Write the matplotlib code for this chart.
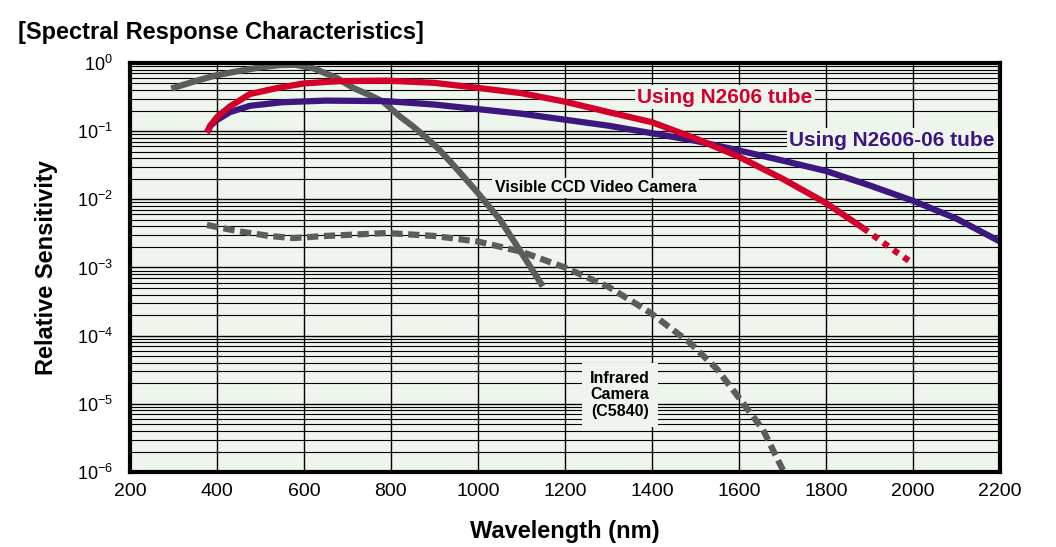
"""Spectral response characteristics: N2606 tubes vs. CCD and infrared cameras."""

import matplotlib

matplotlib.use("Agg")
import matplotlib.pyplot as plt
from matplotlib.ticker import (FixedLocator, LogFormatterSciNotation,
                               NullFormatter)

plt.rcParams["font.family"] = ["Liberation Sans", "DejaVu Sans"]
plt.rcParams["mathtext.fontset"] = "custom"
plt.rcParams["mathtext.rm"] = "Liberation Sans"
plt.rcParams["mathtext.default"] = "regular"

BG = "#eef5ec"
RED = "#d2002a"
PURPLE = "#3c1780"
GRAY = "#5c5c5c"

# values (wavelength nm, relative sensitivity)
n2606_wl = [377, 385, 400, 430, 476, 540, 600, 680, 790, 900, 1000, 1100,
            1200, 1300, 1400, 1500, 1600, 1700, 1800, 1885]
n2606_val = [0.095, 0.12, 0.16, 0.23, 0.35, 0.43, 0.50, 0.54, 0.55, 0.51, 0.43,
             0.36, 0.27, 0.19, 0.135, 0.078, 0.042, 0.02, 0.0088, 0.0038]
n2606_ext_wl = [1885, 1950, 1995]
n2606_ext_val = [0.0038, 0.0019, 0.0012]

n2606_06_wl = [377, 385, 400, 430, 476, 550, 650, 790, 900, 1000, 1100, 1200,
               1300, 1400, 1500, 1600, 1700, 1800, 1900, 2000, 2100, 2200]
n2606_06_val = [0.095, 0.12, 0.145, 0.19, 0.235, 0.265, 0.28, 0.275, 0.245, 0.21,
                0.18, 0.147, 0.12, 0.093, 0.072, 0.052, 0.037, 0.026, 0.016,
                0.0095, 0.0052, 0.0024]

ccd_wl = [295, 350, 395, 450, 500, 545, 580, 620, 637, 676, 713, 750, 782,
          820, 851, 880, 908, 943, 997, 1051, 1101, 1149]
ccd_val = [0.42, 0.54, 0.65, 0.76, 0.86, 0.93, 0.94, 0.84, 0.76, 0.60, 0.43,
           0.34, 0.27, 0.165, 0.117, 0.081, 0.056, 0.032, 0.013, 0.005, 0.0016,
           0.00053]

ir_wl = [377, 450, 520, 575, 650, 790, 900, 1000, 1100, 1200, 1300, 1395,
         1487, 1550, 1595, 1655, 1701]
ir_val = [0.0042, 0.0034, 0.0029, 0.0027, 0.0029, 0.0032, 0.0029, 0.0024,
          0.0017, 0.001, 0.00052, 0.00022, 7.9e-5, 3.2e-5, 1.35e-5, 4.2e-6,
          1.07e-6]

x_ticks = [200, 400, 600, 800, 1000, 1200, 1400, 1600, 1800, 2000, 2200]
y_ticks = [1e-6, 1e-5, 1e-4, 1e-3, 1e-2, 1e-1, 1]


def main() -> None:
    fig = plt.figure(figsize=(10.56, 5.47), dpi=100)
    ax = fig.add_axes([0.123, 0.137, 0.824, 0.748])
    ax.set_facecolor(BG)
    ax.set_yscale("log")
    ax.set_xlim(200, 2200)
    ax.set_ylim(1e-6, 1)

    ax.xaxis.set_major_locator(FixedLocator(x_ticks))
    ax.yaxis.set_major_locator(FixedLocator(y_ticks))
    ax.yaxis.set_major_formatter(LogFormatterSciNotation())
    minor = [m * d for d in y_ticks[:-1] for m in range(2, 10)]
    ax.yaxis.set_minor_locator(FixedLocator(minor))
    ax.yaxis.set_minor_formatter(NullFormatter())
    ax.grid(True, which="major", axis="both", color="black", lw=1.0)
    ax.grid(True, which="minor", axis="y", color="black", lw=0.8)
    ax.set_axisbelow(True)
    ax.tick_params(which="both", length=0)
    ax.tick_params(axis="x", labelsize=14, pad=8)
    ax.tick_params(axis="y", labelsize=13, pad=12)
    for sp in ax.spines.values():
        sp.set_linewidth(3)

    lw = 4.5
    ax.plot(ccd_wl, ccd_val, color=GRAY, lw=lw, solid_capstyle="butt")
    ax.plot(ir_wl, ir_val, color=GRAY, lw=lw, ls=(0, (1.8, 0.9)))
    ax.plot(n2606_06_wl, n2606_06_val, color=PURPLE, lw=lw, solid_capstyle="butt")
    ax.plot(n2606_wl, n2606_val, color=RED, lw=lw, solid_capstyle="butt")
    ax.plot(n2606_ext_wl, n2606_ext_val, color=RED, lw=lw, ls=(0, (1, 1)))

    box = dict(facecolor=BG, edgecolor="none", pad=2)
    ax.text(1568, 0.316, "Using N2606 tube", color=RED, fontsize=15,
            fontweight="bold", ha="center", va="center", bbox=box)
    ax.text(1952, 0.074, "Using N2606-06 tube", color=PURPLE, fontsize=15,
            fontweight="bold", ha="center", va="center", bbox=box)
    ax.text(1271, 0.0147, "Visible CCD Video Camera", color="black",
            fontsize=11.5, fontweight="bold", ha="center", va="center", bbox=box)
    ax.text(1326, 1.35e-5, "Infrared\nCamera\n(C5840)", color="black",
            fontsize=11.5, fontweight="bold", ha="center", va="center",
            linespacing=1.1, bbox=dict(facecolor=BG, edgecolor="none", pad=6))

    ax.set_xlabel("Wavelength (nm)", fontsize=17, fontweight="bold", labelpad=14)
    ax.set_ylabel("Relative Sensitivity", fontsize=17, fontweight="bold", labelpad=14)
    fig.text(0.017, 0.94, "[Spectral Response Characteristics]", fontsize=17,
             fontweight="bold", ha="left", va="center")

    fig.savefig("out.png", dpi=100)


if __name__ == "__main__":
    main()
